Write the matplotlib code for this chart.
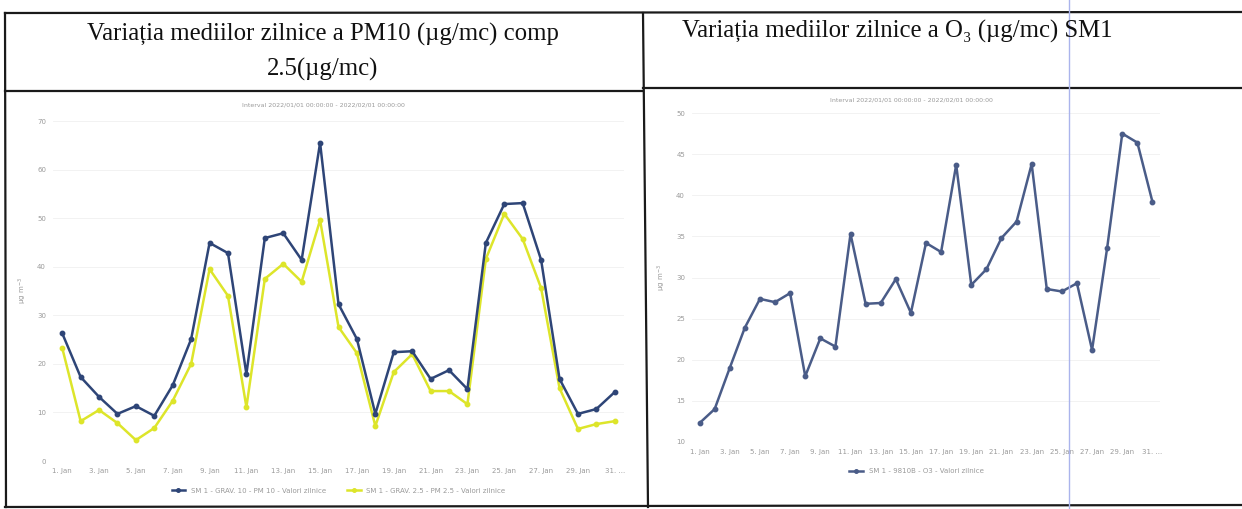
import matplotlib
matplotlib.use("Agg")
import matplotlib.pyplot as plt

# ── data ──────────────────────────────────────────────────────────────────────
days = list(range(1, 32))
pm10 = [26.3, 17.3, 13.2, 9.7, 11.3, 9.3, 15.6, 25.1, 44.9, 42.8, 17.9, 45.9, 46.9, 41.4,
        65.5, 32.3, 25.1, 9.7, 22.4, 22.6, 16.9, 18.7, 14.8, 44.9, 52.9, 53.1, 41.4, 16.9,
        9.7, 10.7, 14.2]
pm25 = [23.3, 8.2, 10.5, 7.8, 4.3, 6.8, 12.4, 20.0, 39.5, 34.0, 11.1, 37.5, 40.6, 36.9,
        49.6, 27.6, 22.2, 7.2, 18.3, 22.0, 14.4, 14.4, 11.7, 41.6, 50.9, 45.7, 35.6, 15.0,
        6.6, 7.6, 8.2]
o3 = [12.3, 14.0, 19.0, 23.9, 27.4, 27.0, 28.1, 18.0, 22.6, 21.6, 35.3, 26.8, 26.9, 29.8,
      25.7, 34.2, 33.1, 43.7, 29.1, 31.0, 34.8, 36.8, 43.8, 28.6, 28.3, 29.3, 21.2, 33.6,
      47.5, 46.4, 39.2]
tick_days = list(range(1, 32, 2))
tick_labels = [f"{d}. Jan" for d in tick_days[:-1]] + ["31. ..."]
left_yticks = [0, 10, 20, 30, 40, 50, 60, 70]
right_yticks = [10, 15, 20, 25, 30, 35, 40, 45, 50]

title_left = "Variația mediilor zilnice a PM10 (µg/mc) comp\n2.5(µg/mc)"
title_right = "Variația mediilor zilnice a O₃ (µg/mc) SM1"
interval = "Interval 2022/01/01 00:00:00 - 2022/02/01 00:00:00"
lbl_pm10 = "SM 1 - GRAV. 10 - PM 10 - Valori zilnice"
lbl_pm25 = "SM 1 - GRAV. 2.5 - PM 2.5 - Valori zilnice"
lbl_o3 = "SM 1 - 9810B - O3 - Valori zilnice"

BLUE = "#2e4577"
YELLOW = "#dde52a"
O3_C = "#4a5c88"
GRAY = "#9a9a9a"
W, H = 1242, 509

fig = plt.figure(figsize=(W / 100, H / 100), dpi=100)
fig.patch.set_facecolor("white")


def px_axes(x0, y0, x1, y1):
    """axes from pixel box (top-left origin)"""
    return fig.add_axes([x0 / W, 1 - y1 / H, (x1 - x0) / W, (y1 - y0) / H])


def style(ax, yticks):
    ax.set_xticks(tick_days)
    ax.set_xticklabels(tick_labels, fontsize=5, color=GRAY)
    ax.set_yticks(yticks)
    ax.set_yticklabels([str(v) for v in yticks], fontsize=5, color=GRAY)
    ax.tick_params(length=0, pad=5)
    ax.grid(axis="y", color="#f0f0f0", lw=0.6)
    for s in ax.spines.values():
        s.set_visible(False)
    ax.set_axisbelow(True)


# ── left chart ────────────────────────────────────────────────────────────────
axl = px_axes(53, 121, 624, 461)
axl.plot(days, pm10, color=BLUE, lw=1.8, marker="o", ms=3.2, label=lbl_pm10, zorder=3)
axl.plot(days, pm25, color=YELLOW, lw=1.8, marker="o", ms=3.2, label=lbl_pm25, zorder=2)
axl.set_xlim(0.5, 31.5)
axl.set_ylim(0, 70)
style(axl, left_yticks)
axl.set_ylabel("µg m$^{-3}$", fontsize=5, color=GRAY, labelpad=6)
axl.legend(loc="upper center", bbox_to_anchor=(0.5, -0.06), ncol=2, frameon=False,
           fontsize=5, labelcolor=GRAY, handlelength=2, columnspacing=3, markerscale=0.8)

# ── right chart ───────────────────────────────────────────────────────────────
axr = px_axes(692, 113, 1160, 442)
axr.plot(days, o3, color=O3_C, lw=1.8, marker="o", ms=3.2, label=lbl_o3)
axr.set_xlim(0.5, 31.5)
axr.set_ylim(10, 50)
style(axr, right_yticks)
axr.set_ylabel("µg m$^{-3}$", fontsize=5, color=GRAY, labelpad=6)
axr.legend(loc="upper center", bbox_to_anchor=(0.48, -0.06), frameon=False,
           fontsize=5, labelcolor=GRAY, handlelength=2, markerscale=0.8)

# ── table frame, titles (overlay in pixel coordinates) ───────────────────────
ov = fig.add_axes([0, 0, 1, 1], zorder=10)
ov.set_xlim(0, W)
ov.set_ylim(H, 0)
ov.axis("off")
k = dict(color="#1a1a1a", lw=1.6)
ov.plot([5, 1241], [13, 12], **k)
ov.plot([5, 643], [91, 91], **k)
ov.plot([643, 1241], [88, 88], **k)
ov.plot([5, 6], [13, 507], **k)
ov.plot([643, 648], [13, 507], **k)
ov.plot([5, 1241], [507, 505], **k)
ov.plot([1069, 1069], [0, H], color="#aab4ec", lw=1)

ov.text(323, 52, title_left, ha="center", va="center", fontsize=17.8,
        family="Liberation Serif", linespacing=1.65, color="#111111")
ov.text(897, 31, title_right, ha="center", va="center", fontsize=17.8,
        family="Liberation Serif", color="#111111")
ov.text(323, 105, interval, ha="center", va="center", fontsize=4.5, color=GRAY)
ov.text(911, 100, interval, ha="center", va="center", fontsize=4.5, color=GRAY)

fig.savefig("out.png", dpi=100, facecolor="white")
